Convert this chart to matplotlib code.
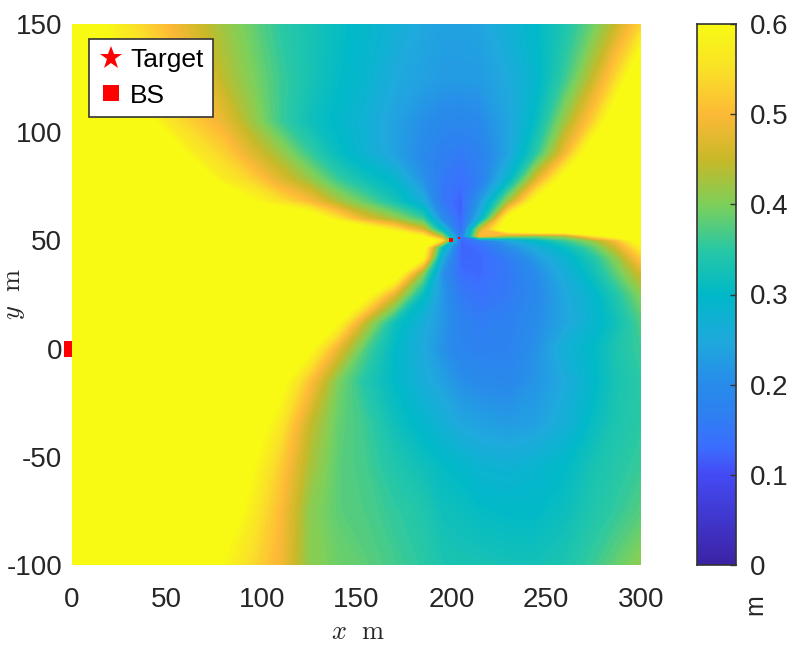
import numpy as np
import matplotlib
matplotlib.use('Agg')
import matplotlib.pyplot as plt
from matplotlib.colors import LinearSegmentedColormap
from matplotlib.lines import Line2D

plt.rcParams['font.family'] = ['Liberation Sans', 'DejaVu Sans']
plt.rcParams['mathtext.fontset'] = 'cm'
plt.rcParams['axes.unicode_minus'] = False

xs = [0, 25, 50, 65, 80, 95, 110, 125, 140, 155, 170, 185, 195, 205, 215, 230, 245, 260, 275, 287, 300]
ys = [150, 125, 105, 90, 78, 68, 60, 55, 52, 50, 47, 42, 35, 25, 12, 0, -15, -35, -55, -75, -100]
rows = [
    [.66, .57, .50, .46, .42, .385, .35, .33, .31, .29, .27, .245, .235, .235, .24, .27, .30, .335, .39, .45, .53],
    [.72, .60, .54, .49, .44, .40, .36, .33, .305, .285, .25, .235, .225, .225, .225, .25, .29, .36, .45, .54, .68],
    [.72, .70, .56, .52, .48, .42, .36, .32, .295, .27, .235, .205, .19, .185, .195, .24, .31, .42, .53, .66, .72],
    [.72, .72, .66, .57, .53, .47, .42, .36, .31, .275, .235, .195, .165, .155, .17, .24, .35, .49, .66, .72, .72],
    [.72, .72, .72, .66, .57, .53, .47, .42, .36, .32, .29, .21, .155, .135, .165, .29, .47, .63, .72, .72, .72],
    [.72, .72, .72, .72, .70, .60, .55, .50, .43, .38, .33, .26, .15, .115, .22, .42, .62, .72, .72, .72, .72],
    [.72, .72, .72, .72, .72, .72, .70, .66, .56, .47, .42, .36, .20, .12, .27, .62, .72, .72, .72, .72, .72],
    [.72, .72, .72, .72, .72, .72, .72, .72, .72, .64, .56, .46, .30, .12, .45, .66, .72, .72, .72, .72, .72],
    [.72, .72, .72, .72, .72, .72, .72, .72, .72, .72, .66, .58, .42, .14, .50, .42, .40, .42, .55, .62, .72],
    [.72, .72, .72, .72, .72, .72, .72, .72, .72, .72, .72, .68, .55, .12, .16, .24, .30, .36, .42, .50, .64],
    [.72, .72, .72, .72, .72, .72, .72, .72, .72, .72, .72, .64, .32, .12, .13, .20, .26, .31, .38, .46, .58],
    [.72, .72, .72, .72, .72, .72, .72, .72, .72, .72, .72, .60, .26, .12, .125, .16, .225, .28, .34, .41, .52],
    [.72, .72, .72, .72, .72, .72, .72, .72, .72, .72, .66, .41, .21, .13, .125, .15, .20, .26, .32, .38, .46],
    [.72, .72, .72, .72, .72, .72, .72, .72, .72, .62, .47, .31, .22, .155, .14, .155, .19, .245, .29, .34, .405],
    [.72, .72, .72, .72, .72, .72, .72, .72, .60, .44, .32, .26, .22, .175, .16, .17, .20, .24, .285, .32, .37],
    [.72, .72, .72, .72, .72, .72, .72, .61, .48, .37, .30, .25, .21, .18, .17, .175, .21, .27, .30, .335, .36],
    [.72, .72, .72, .72, .72, .72, .62, .51, .40, .34, .30, .26, .235, .205, .195, .19, .215, .25, .295, .33, .35],
    [.72, .72, .72, .72, .72, .64, .56, .45, .385, .36, .32, .29, .27, .245, .235, .225, .235, .265, .31, .335, .35],
    [.72, .72, .72, .72, .68, .60, .52, .43, .38, .365, .34, .32, .305, .295, .28, .275, .285, .30, .33, .345, .36],
    [.72, .72, .72, .72, .65, .57, .50, .41, .38, .37, .355, .34, .32, .315, .305, .30, .30, .315, .34, .355, .375],
    [.72, .72, .72, .70, .59, .54, .49, .41, .39, .38, .365, .35, .335, .33, .33, .325, .325, .335, .36, .385, .41],
]
target_x = [200, 204]
target_y = [50, 51]
bs_xy = (0, 0)
x_ticks = [0, 50, 100, 150, 200, 250, 300]
y_ticks = [-100, -50, 0, 50, 100, 150]
c_ticks = [0, 0.1, 0.2, 0.3, 0.4, 0.5, 0.6]
legend_labels = ['Target', 'BS']

stops = [
    (0.0, (60, 35, 165)), (0.1, (68, 75, 245)), (0.13, (60, 110, 255)), (0.17, (45, 130, 240)),
    (0.2, (40, 140, 235)), (0.25, (30, 170, 220)), (0.3, (0, 185, 200)), (0.35, (40, 200, 165)),
    (0.4, (125, 208, 90)), (0.45, (200, 185, 40)), (0.5, (253, 185, 55)), (0.55, (250, 225, 40)),
    (0.6, (248, 250, 20)),
]
parula = LinearSegmentedColormap.from_list(
    'parula', [(v / 0.6, tuple(c / 255 for c in rgb)) for v, rgb in stops], N=256)

W, H = 792, 648
fig = plt.figure(figsize=(W / 100, H / 100), dpi=100)
ax = fig.add_axes([72 / W, 1 - 565 / H, (641 - 72) / W, (565 - 24) / H])
cax = fig.add_axes([697 / W, 1 - 565 / H, (736 - 697) / W, (565 - 24) / H])

Z = np.array(rows)
levels = np.linspace(0, 0.6, 161)
cs = ax.contourf(xs, ys, Z, levels=levels, cmap=parula, extend='both', zorder=2)
cs.set_antialiased(False)
ax.set_xlim(0, 300)
ax.set_ylim(-100, 150)
ax.set_xticks(x_ticks)
ax.set_yticks(y_ticks)
ax.tick_params(length=0, labelsize=20, labelcolor='#262626')
ax.tick_params(axis='x', pad=16)
ax.tick_params(axis='y', pad=7)
for s in ax.spines.values():
    s.set_visible(False)
ax.plot(*bs_xy, 's', color='red', ms=11.5, mew=0, clip_on=False, zorder=1)
ax.plot(target_x[0], target_y[0], 's', color='red', ms=3.5, mew=0, zorder=3)
ax.plot(target_x[1], target_y[1], 's', color='red', ms=2, mew=0, zorder=3)

ax.set_xlabel(r'$x\ \ \mathrm{m}$', fontsize=19, color='#262626')
ax.xaxis.set_label_coords((358 - 72) / 569, -(632 - 565) / 541, transform=ax.transAxes)
ax.xaxis.label.set_va('center')
ax.set_ylabel(r'$y\ \ \mathrm{m}$', fontsize=19, color='#262626')
ax.yaxis.set_label_coords(-(72 - 15) / 569, (565 - 294) / 541, transform=ax.transAxes)
ax.yaxis.label.set_va('center')

handles = [
    Line2D([], [], marker='*', color='red', ls='none', ms=17, mew=0),
    Line2D([], [], marker='s', color='red', ls='none', ms=11.5, mew=0),
]
leg = ax.legend(handles, legend_labels, loc='upper left',
                bbox_to_anchor=((89 - 72) / 569, 1 - (39 - 24) / 541),
                borderaxespad=0, fontsize=19, fancybox=False, framealpha=1, edgecolor='#333333',
                handlelength=0.95, handletextpad=0.25, labelspacing=0.42, borderpad=0.36)
leg.get_frame().set_linewidth(1.2)
leg.set_zorder(5)

gradient = np.linspace(0.6, 0, 256).reshape(-1, 1)
cax.imshow(gradient, aspect='auto', cmap=parula, vmin=0, vmax=0.6, extent=[0, 1, 0, 0.6])
cax.set_xticks([])
cax.yaxis.tick_right()
cax.set_yticks(c_ticks)
cax.set_yticklabels(['0', '0.1', '0.2', '0.3', '0.4', '0.5', '0.6'])
cax.tick_params(axis='y', direction='in', length=4.5, width=1, color='#333333', labelsize=20,
                labelcolor='#262626', pad=10)
for s in cax.spines.values():
    s.set_color('#333333')
    s.set_linewidth(1.2)
fig.text(755 / W, 1 - 605 / H, 'm', rotation=90, fontsize=18, color='#262626', ha='center', va='center')

fig.savefig('out.png', dpi=100)
